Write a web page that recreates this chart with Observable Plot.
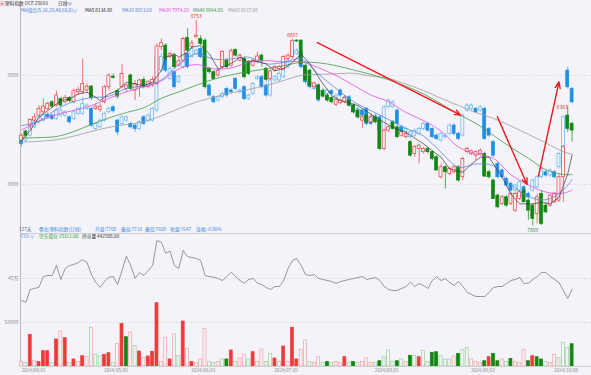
<!DOCTYPE html>
<html><head><meta charset="utf-8">
<script src="https://cdn.jsdelivr.net/npm/d3@7"></script>
<script src="https://cdn.jsdelivr.net/npm/@observablehq/plot@0.6"></script>
<style>
html,body{margin:0;padding:0;background:#f4f3f9;}
#root{position:relative;width:591px;height:375px;overflow:hidden;background:#f4f3f9;font-family:"Noto Sans CJK SC","Noto Sans",sans-serif;}
.t{position:absolute;white-space:nowrap;font-size:4.7px;line-height:6px;}
.p{position:absolute;left:0;}
.p svg{overflow:visible;display:block;}
</style></head><body><div id="root"></div>
<script>
// ---------------- data ----------------
const mainO=[8201,8243,8270,8293,8316,8331,8347,8377,8362,8392,8377,8397,8377,8423,8423,8431,8449,8347,8342,8377,8446,8495,8428,8446,8438,8500,8431,8446,8480,8446,8454,8461,8630,8637,8584,8591,8545,8568,8672,8630,8676,8668,8660,8530,8515,8500,8538,8568,8545,8617,8568,8576,8561,8545,8561,8591,8530,8484,8522,8530,8530,8576,8584,8660,8660,8545,8522,8446,8454,8428,8408,8397,8366,8373,8377,8385,8362,8339,8293,8316,8285,8308,8293,8163,8247,8285,8262,8224,8217,8194,8140,8163,8148,8163,8148,8125,8033,8079,8048,8056,8079,8033,8148,8140,8132,8140,8140,8056,8018,7949,7911,7941,7911,7880,7933,7972,7926,7903,7865,7956,7903,7903,7918,7926,8033,8316,8278];
const mainH=[8232,8250,8301,8324,8362,8392,8377,8385,8428,8400,8408,8403,8438,8446,8576,8461,8454,8370,8370,8454,8507,8507,8438,8550,8461,8507,8477,8484,8492,8477,8492,8645,8668,8645,8607,8599,8576,8676,8714,8660,8753,8683,8668,8538,8522,8530,8614,8576,8622,8622,8599,8584,8568,8576,8607,8599,8538,8526,8545,8545,8591,8599,8667,8664,8663,8553,8530,8469,8461,8438,8415,8403,8400,8392,8408,8392,8370,8347,8316,8324,8324,8316,8301,8255,8270,8293,8270,8247,8239,8201,8178,8186,8171,8171,8155,8132,8094,8086,8079,8086,8086,8125,8171,8158,8155,8163,8148,8064,8025,7956,7949,7949,7964,7964,7972,7979,7933,7911,7956,7972,7918,7956,7964,8048,8178,8361,8285];
const mainL=[8186,8217,8247,8285,8308,8324,8339,8351,8354,8354,8370,8376,8370,8408,8415,8423,8385,8339,8331,8370,8431,8484,8392,8438,8423,8431,8385,8400,8438,8438,8446,8454,8614,8568,8576,8530,8538,8561,8607,8622,8668,8637,8438,8507,8477,8492,8530,8530,8538,8584,8561,8484,8500,8538,8553,8538,8469,8477,8515,8522,8522,8568,8576,8652,8545,8469,8446,8438,8385,8397,8377,8370,8357,8366,8370,8357,8324,8301,8255,8278,8278,8278,8155,8155,8239,8247,8209,8217,8209,8125,8125,8094,8140,8140,8109,8064,8025,7979,8041,8048,8010,8018,8140,8132,8109,8132,8033,8025,7933,7888,7903,7895,7903,7872,7926,7918,7834,7809,7819,7811,7865,7895,7911,7918,7918,8239,8194];
const mainC=[8224,8224,8296,8308,8347,8357,8370,8357,8408,8362,8397,8382,8428,8434,8461,8449,8397,8357,8357,8446,8500,8489,8403,8507,8454,8438,8461,8477,8446,8469,8480,8633,8648,8576,8599,8538,8565,8668,8614,8648,8683,8645,8446,8515,8484,8522,8607,8538,8611,8591,8591,8492,8507,8568,8587,8568,8480,8519,8538,8538,8584,8591,8657,8656,8553,8477,8454,8464,8392,8403,8385,8377,8388,8385,8397,8362,8331,8308,8308,8285,8308,8285,8163,8247,8262,8255,8217,8239,8232,8132,8171,8178,8163,8148,8117,8064,8079,8056,8071,8079,8018,8117,8163,8152,8148,8155,8036,8033,7933,7895,7941,7903,7956,7956,7964,7918,7880,7842,7941,7819,7872,7949,7956,8033,8171,8255,8247];

const idxO=[8201,8201,8224,8262,8285,8293,8320,8316,8301,8316,8316,8308,8301,8324,8324,8347,8347,8255,8262,8293,8331,8354,8293,8278,8293,8278,8270,8255,8308,8293,8293,8339,8522,8576,8484,8515,8469,8538,8599,8584,8599,8622,8599,8454,8400,8385,8400,8438,8431,8484,8423,8446,8392,8415,8484,8492,8454,8408,8477,8477,8492,8538,8584,8599,8607,8538,8469,8438,8454,8408,8415,8428,8385,8431,8385,8400,8362,8308,8339,8347,8308,8293,8308,8247,8354,8354,8339,8262,8239,8217,8224,8232,8255,8278,8255,8224,8201,8217,8232,8270,8232,8224,8339,8347,8347,8339,8347,8255,8194,8094,8064,8025,8002,7972,7972,7987,7956,7972,7987,8033,8056,8041,8056,8079,8094,8522,8438];
const idxH=[8209,8232,8270,8300,8316,8331,8330,8324,8347,8347,8339,8316,8339,8354,8400,8370,8354,8285,8300,8331,8354,8362,8300,8316,8316,8285,8278,8293,8316,8324,8354,8599,8600,8584,8538,8522,8500,8614,8607,8630,8622,8630,8607,8461,8408,8408,8423,8446,8438,8492,8438,8454,8415,8469,8500,8500,8461,8484,8500,8515,8553,8576,8614,8622,8614,8545,8477,8461,8461,8438,8438,8435,8415,8438,8408,8408,8370,8354,8347,8354,8316,8324,8316,8362,8392,8385,8347,8270,8262,8247,8255,8262,8285,8285,8262,8232,8239,8232,8278,8278,8239,8324,8370,8370,8354,8362,8354,8262,8201,8102,8071,8033,8010,8002,8018,7995,7964,8025,8041,8079,8064,8071,8064,8148,8316,8538,8446];
const idxL=[8171,8194,8217,8255,8278,8285,8300,8293,8293,8308,8308,8278,8293,8316,8316,8339,8262,8247,8255,8285,8324,8328,8224,8270,8285,8255,8240,8247,8270,8285,8285,8331,8514,8514,8476,8438,8461,8530,8530,8576,8592,8576,8514,8400,8370,8377,8392,8400,8415,8431,8415,8385,8385,8408,8476,8438,8400,8400,8469,8469,8484,8530,8576,8592,8530,8461,8438,8431,8377,8400,8408,8408,8377,8400,8377,8354,8324,8300,8308,8270,8270,8285,8239,8239,8347,8347,8270,8232,8232,8209,8217,8224,8247,8240,8209,8201,8194,8209,8224,8224,8201,8217,8331,8339,8324,8331,8201,8217,8125,8025,8025,7987,7964,7964,7964,7933,7933,7964,7979,8025,8033,8033,8025,8071,8086,8438,8370];
const idxC=[8186,8224,8262,8285,8308,8320,8308,8301,8339,8339,8331,8285,8331,8347,8370,8362,8270,8278,8293,8324,8347,8336,8239,8308,8308,8262,8255,8285,8278,8316,8347,8584,8584,8522,8530,8446,8492,8607,8538,8622,8614,8584,8522,8408,8377,8400,8415,8408,8423,8438,8431,8392,8408,8461,8492,8446,8408,8477,8492,8507,8545,8568,8607,8614,8538,8469,8446,8454,8385,8431,8431,8415,8408,8408,8400,8362,8331,8347,8316,8278,8278,8316,8247,8354,8385,8377,8278,8239,8255,8239,8247,8255,8278,8247,8217,8209,8232,8224,8270,8232,8209,8316,8362,8362,8331,8354,8209,8224,8132,8033,8033,7995,7972,7995,8010,7941,7941,8018,8033,8071,8041,8064,8033,8140,8308,8446,8377];

const maIdx=[0,4,8,12,16,20,24,28,32,36,40,44,48,52,56,60,64,68,72,76,80,84,88,92,96,100,104,108,112,116,120,124,126];
const ma10=[8270,8290,8345,8380,8398,8405,8440,8452,8480,8550,8599,8575,8576,8584,8553,8560,8575,8505,8440,8380,8338,8298,8258,8222,8148,8079,8094,8085,8000,7945,7930,7975,8024];
const ma20=[8250,8290,8320,8340,8362,8395,8425,8448,8475,8530,8550,8530,8535,8560,8568,8562,8563,8535,8500,8455,8410,8380,8330,8293,8245,8172,8140,8120,8045,7998,7965,7960,7974];
const ma40=[8213,8215,8220,8243,8275,8305,8330,8352,8395,8425,8455,8483,8503,8518,8530,8545,8560,8558,8545,8525,8505,8480,8450,8415,8370,8322,8280,8225,8170,8120,8068,8046,8045];
const ma60=[8194,8198,8205,8222,8243,8262,8275,8288,8315,8348,8378,8400,8420,8436,8454,8477,8500,8505,8508,8510,8497,8486,8460,8431,8395,8362,8330,8303,8268,8230,8190,8150,8138];
const ma5Idx=[0,2,4,7,9,11,13,15,17,18,20,22,24,26,28,30,32,33,35,36,38,39,41,43,45,47,49,50,52,53,56,58,60,62,64,66,69,71,73,77,81,85,88,92,96,98,101,103,105,107,110,112,114,117,119,121,123,125,126];
const ma5=[8201,8247,8308,8354,8385,8392,8415,8423,8400,8385,8415,8431,8469,8461,8454,8469,8522,8584,8599,8584,8607,8630,8637,8599,8530,8545,8568,8584,8561,8568,8553,8522,8530,8560,8599,8553,8461,8408,8385,8362,8308,8262,8239,8186,8125,8071,8056,8094,8125,8125,8033,7956,7911,7911,7918,7911,7941,8048,8135];

const oi=[434600,433400,442300,443000,443900,451400,452100,452100,459100,449300,457000,459100,459800,461200,463300,461200,452800,447200,443900,447900,450900,451400,445800,455600,465600,459100,450200,454200,452100,455600,459100,476600,475400,467700,469100,459100,457000,469600,465400,464700,464000,462600,452100,451400,450900,450000,448600,451400,454400,451400,448600,446700,449300,450000,446700,445800,443700,442300,444400,444400,448600,457000,462600,464000,459100,452800,452100,452800,450000,449300,448600,447900,446500,447900,448600,449300,450000,450700,451400,449300,450000,450700,448600,444400,442300,441600,441600,443000,444400,447400,444400,446500,445100,443000,448600,451400,448600,450000,447200,445100,447900,444400,440200,438800,437400,437400,437400,440200,443700,444400,444400,446500,448600,449300,450700,446500,446700,449300,451400,454200,454200,451400,449300,447200,441600,436000,442588];

const vol=[5000,4000,36000,6000,5000,17400,17400,4000,30700,39800,32200,4000,8000,5000,11700,11000,44000,13600,11400,13300,15100,4000,25800,48500,33300,38600,23500,17000,9400,11400,16700,71900,5000,32600,8000,36400,12200,51100,20100,5000,4000,8000,42800,5000,4000,5000,8000,8000,18200,5000,9100,13300,8000,16200,5000,19300,5000,14400,9100,5000,22700,5000,44000,8000,19000,29500,5000,4000,10600,4000,5000,4000,5000,4000,10600,4000,5000,4000,5000,9400,4000,4000,6000,10600,18200,5000,6000,8000,5000,12200,12200,10600,17400,5000,15600,16200,11700,8000,8000,11400,14400,19000,21200,8000,5000,4000,6000,10600,14400,6000,8000,5000,8700,5000,4000,19000,6000,11700,10600,8000,5000,4000,13300,9400,26900,21200,25300];
const volType=["rh","gh","rf","rh","rf","rf","rf","gh","rf","rh","rf","gh","rf","rh","rf","rh","rh","gh","gh","rf","rf","gh","rh","rf","gf","rh","gh","rf","rh","rf","rf","rf","rh","rh","rf","rh","gh","rf","rh","rf","rh","rh","rh","gh","gh","rh","gh","gf","rf","gh","rh","rh","gh","rf","rh","rh","gh","gh","rf","rh","rf","rh","rf","rf","rh","rh","gh","rh","rh","gh","gf","gh","rh","rh","rf","gh","gf","gh","rh","rh","rh","gh","gf","gh","gh","gh","gf","gh","rh","gf","gh","rf","gh","gh","gf","gf","gh","gh","gh","rh","gf","gh","gh","rh","rh","rh","gf","rf","gf","gf","rh","gh","gf","rh","rh","rh","gf","rf","gf","gf","gh","rh","rh","gh","gh","gh","gf"];

const dateIdx=[0,20,40,59,82,104,123];
const dateLabels=["2024/04/01","2024/05/06","2024/06/03","2024/07/01","2024/08/01","2024/09/02","2024/10/08"];
const priceTicks=[8000,8500];
const oiTicks=[450000];
const volTicks=[50000];
const arrows=[{x1:67.7,y1:8651,x2:100.5,y2:8318},{x1:108.9,y1:8310,x2:115.7,y2:8000},{x1:118.3,y1:8038,x2:123,y2:8470}];
const peakLabels=[{i:40,v:8753,t:"8753",dy:-4,anchor:"middle",color:"#e53030"},{i:62,v:8667,t:"8667",dy:-4,anchor:"middle",color:"#e53030"},{i:117,v:7809,t:"7809",dy:4,anchor:"middle",color:"#3a8a3a"},{i:125,v:8361,t:"8361",dy:2,anchor:"end",color:"#e53030"}];

// ---------------- build ----------------
const BG="#f4f3f9";
const N=mainO.length;
const main=d3.range(N).map(i=>({i,o:mainO[i],h:mainH[i],l:mainL[i],c:mainC[i],up:mainC[i]>=mainO[i]}));
const ovl=d3.range(N).map(i=>({i,o:idxO[i],h:idxH[i],l:idxL[i],c:idxC[i],up:idxC[i]>=idxO[i]}));
const maLine=(vals,ix)=>vals.map((v,k)=>({i:ix[k],v}));
const xs={domain:[-0.23,130.44],axis:null,label:null};
const W=591;
const hw=0.34;
const RED="#f03a3a",GRN="#128612",BLU="#1e8fe6",LBL="#5cb3f2";
const FONT="'Noto Sans CJK SC','Noto Sans',sans-serif";
const root=document.getElementById("root");
function place(el,top){const d=document.createElement("div");d.className="p";d.style.top=top+"px";d.appendChild(el);root.appendChild(d);}
function txt(s,x,y,color,size){const e=document.createElement("div");e.className="t";e.textContent=s;e.style.left=x+"px";e.style.top=y+"px";e.style.color=color;if(size)e.style.fontSize=size+"px";root.appendChild(e);}

const price=Plot.plot({
  width:W,height:228,marginTop:0,marginBottom:0,marginLeft:20,marginRight:0,
  style:{background:"transparent",fontFamily:FONT},
  x:xs,y:{domain:[7775,8821],axis:null,label:null},
  marks:[
    Plot.gridY(priceTicks,{stroke:"#c4c4cc",strokeOpacity:1,strokeDasharray:"1.2,1.8",strokeWidth:0.6}),
    Plot.axisY(priceTicks,{tickSize:0,tickPadding:2,fontSize:5,fill:"#8a8a8a",tickFormat:"d",label:null}),
    Plot.frame({anchor:"left",stroke:"#b8b8c0"}),
    Plot.frame({anchor:"bottom",stroke:"#cfcfd6"}),
    Plot.ruleX(ovl,{x:"i",y1:"l",y2:"h",stroke:d=>d.up?LBL:BLU,strokeWidth:0.7}),
    Plot.rect(ovl,{x1:d=>d.i-hw,x2:d=>d.i+hw,y1:"o",y2:"c",fill:d=>d.up?BG:BLU,stroke:d=>d.up?LBL:BLU,strokeWidth:0.7}),
    Plot.ruleX(main,{x:"i",y1:"l",y2:"h",stroke:d=>d.up?RED:GRN,strokeWidth:0.7}),
    Plot.rect(main,{x1:d=>d.i-hw,x2:d=>d.i+hw,y1:"o",y2:"c",fill:d=>d.up?BG:GRN,stroke:d=>d.up?RED:GRN,strokeWidth:0.7}),
    Plot.line(maLine(ma60,maIdx),{x:"i",y:"v",stroke:"#9c9c9c",strokeWidth:0.8,curve:"catmull-rom"}),
    Plot.line(maLine(ma40,maIdx),{x:"i",y:"v",stroke:"#3f9d3f",strokeWidth:0.8,curve:"catmull-rom"}),
    Plot.line(maLine(ma20,maIdx),{x:"i",y:"v",stroke:"#e24fe2",strokeWidth:0.8,curve:"catmull-rom"}),
    Plot.line(maLine(ma10,maIdx),{x:"i",y:"v",stroke:"#5b86e0",strokeWidth:0.8,curve:"catmull-rom"}),
    Plot.line(maLine(ma5,ma5Idx),{x:"i",y:"v",stroke:"#3a3a3a",strokeWidth:0.7,curve:"linear"}),
    Plot.arrow(arrows,{x1:"x1",y1:"y1",x2:"x2",y2:"y2",stroke:"#f01a1a",strokeWidth:1.4,headLength:7,headAngle:45}),
    ...peakLabels.map(p=>Plot.text([p],{x:"i",y:"v",text:"t",dy:p.dy,textAnchor:p.anchor,fill:p.color,fontSize:5}))
  ]
});
place(price,5);

const oiPlot=Plot.plot({
  width:W,height:85,marginTop:0,marginBottom:0,marginLeft:20,marginRight:0,
  style:{background:"transparent",fontFamily:FONT},
  x:xs,y:{domain:[422000,481500],axis:null,label:null},
  marks:[
    Plot.gridY(oiTicks,{stroke:"#c4c4cc",strokeOpacity:1,strokeDasharray:"1.2,1.8",strokeWidth:0.6}),
    Plot.axisY(oiTicks,{tickSize:0,tickPadding:2,fontSize:5,fill:"#8a8a8a",tickFormat:d=>Math.round(d/10000)+"万",label:null}),
    Plot.frame({anchor:"left",stroke:"#b8b8c0"}),
    Plot.line(oi.map((v,i)=>({i,v})),{x:"i",y:"v",stroke:"#6e6e6e",strokeWidth:0.7})
  ]
});
place(oiPlot,233);

const volColors={rf:[RED,RED],rh:[BG,"#f4a0a0"],gf:[GRN,GRN],gh:[BG,"#98d098"]};
const vrows=vol.map((v,i)=>({i,v,t:volType[i]}));
const dates=dateIdx.map((i,k)=>({i,label:dateLabels[k]}));
const volPlot=Plot.plot({
  width:W,height:75,marginTop:0,marginBottom:9,marginLeft:20,marginRight:0,
  style:{background:"transparent",fontFamily:FONT},
  x:xs,y:{domain:[0,74976],axis:null,label:null},
  marks:[
    Plot.gridY(volTicks,{stroke:"#c4c4cc",strokeOpacity:1,strokeDasharray:"1.2,1.8",strokeWidth:0.6}),
    Plot.axisY(volTicks,{tickSize:0,tickPadding:2,fontSize:5,fill:"#8a8a8a",tickFormat:"d",label:null}),
    Plot.frame({anchor:"left",stroke:"#b8b8c0"}),
    Plot.rect(vrows,{x1:d=>d.i-hw,x2:d=>d.i+hw,y1:0,y2:"v",fill:d=>volColors[d.t][0],stroke:d=>volColors[d.t][1],strokeWidth:0.7}),
    Plot.frame({anchor:"bottom",stroke:"#cfcfd6"}),
    Plot.text(dates.slice(0,1),{x:"i",text:"label",frameAnchor:"bottom",dy:5,textAnchor:"start",fill:"#8a8a8a",fontSize:4.6}),
    Plot.text(dates.slice(1),{x:"i",text:"label",frameAnchor:"bottom",dy:5,dx:-5,textAnchor:"start",fill:"#8a8a8a",fontSize:4.6})
  ]
});
place(volPlot,300);

// header & info rows
txt("▣",0,0,"#d04040",4.7);
txt("塑料指数 DCE 25603",5,0,"#333");
txt("日线∨",58,0,"#333");
txt("MA组合(5,10,20,40,60,0)∨",21,7,"#3f7fd9");
txt("MA5 8134.80",85,7,"#222");
txt("MA10 8023.60",122,7,"#4a7fd8");
txt("MA20 7974.20",159,7,"#e040e0");
txt("MA40 8044.88",193,7,"#3a9a3a");
txt("MA60 8137.80",228,7,"#999");
txt("127天",19,226,"#4a5a8a");
txt("叠加:塑料指数(日线)",39,226,"#3b8de0");
txt("开盘:7708",95,226,"#3b8de0");
txt("最高:7710",121,226,"#3b8de0");
txt("最低:7609",145,226,"#3b8de0");
txt("收盘:7647",170,226,"#3b8de0");
txt("涨幅:-0.80%",196,226,"#3b8de0");
txt("COL∨",21,233,"#3b8de0");
txt("空头增仓 25311.00",39,233,"#2a9a2a");
txt("持仓量 442588.00",82,233,"#333");
</script></body></html>
